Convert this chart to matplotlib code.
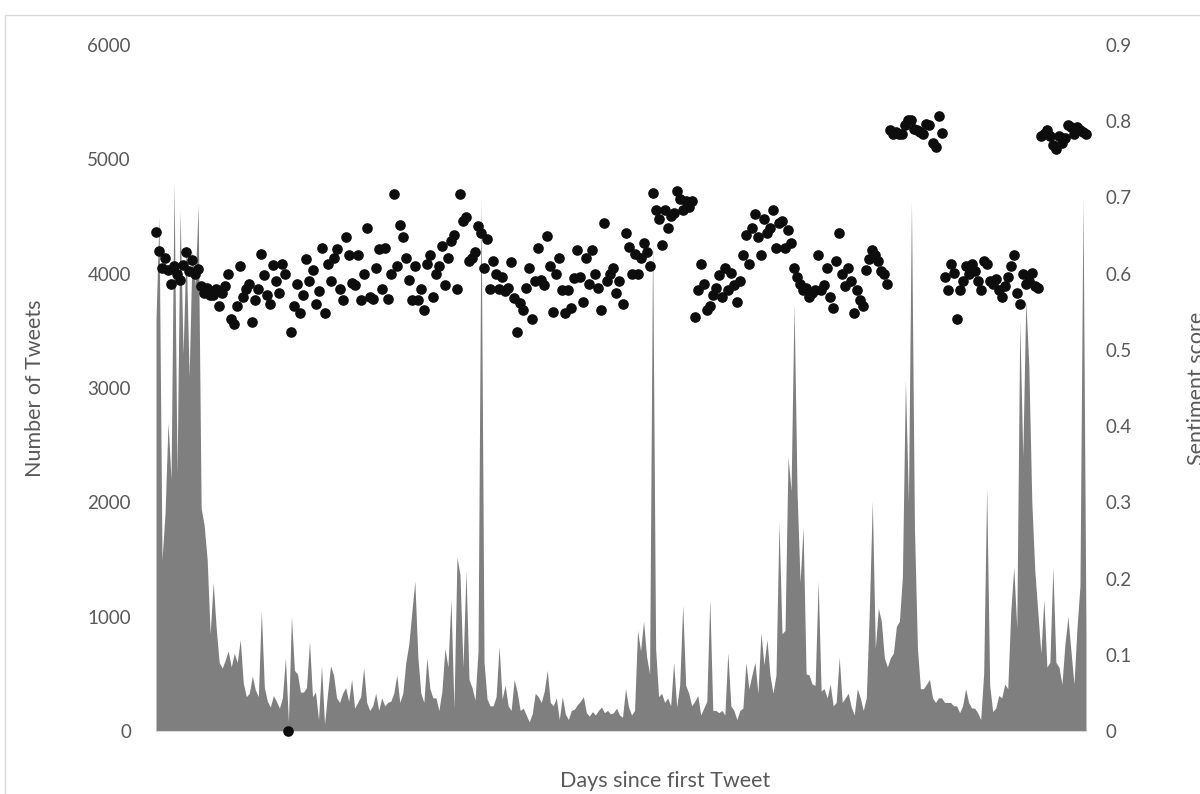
from matplotlib import pyplot as plt
from matplotlib.patches import Rectangle
import numpy as np

# daily tweet counts (area, left axis)
tweets = [3600, 4500, 1500, 1900, 2700, 2200, 4800, 2250, 4550, 3300, 4250, 3100, 4200, 3900, 4600, 1950, 1800, 1500, 850, 1300, 900, 600,
          550, 620, 700, 560, 680, 600, 800, 420, 300, 330, 480, 360, 300, 1050, 380, 260, 210, 310, 260, 200, 290, 640,
          80, 1000, 530, 500, 340, 340, 380, 780, 300, 340, 100, 570, 60, 330, 570, 490, 290, 250, 330, 380, 260, 450, 200, 250,
          300, 550, 250, 180, 220, 330, 180, 290, 220, 250, 260, 330, 490, 250, 330, 600, 760, 1040, 1310, 650,
          330, 250, 640, 370, 290, 290, 180, 350, 720, 560, 1150, 200, 1520, 1370, 560, 1400, 450, 380, 270, 700, 4650, 600,
          280, 220, 220, 300, 740, 280, 400, 220, 180, 450, 340, 180, 200, 140, 80, 150, 330, 300, 250, 350, 530, 250, 220,
          290, 100, 300, 150, 100, 180, 190, 230, 260, 300, 160, 130, 170, 140, 180, 210, 160, 180, 150, 160, 200, 140, 120,
          370, 210, 140, 180, 880, 700, 960, 650, 500, 4300, 720, 300, 330, 250, 290, 220, 600, 210, 400, 1100, 400, 330,
          220, 260, 310, 140, 200, 260, 1150, 180, 180, 160, 180, 140, 685, 220, 180, 100, 180, 200, 600, 370, 490, 600,
          330, 860, 580, 800, 490, 330, 490, 1820, 850, 880, 2400, 2100, 3740, 2090, 1300, 1780, 500, 490, 410, 400, 1310, 350, 370,
          290, 410, 220, 250, 645, 250, 290, 330, 210, 140, 370, 290, 180, 290, 1040, 2010, 720, 1075, 960, 640, 560, 640,
          680, 915, 960, 1350, 3070, 2000, 4630, 1780, 720, 370, 370, 410, 450, 290, 250, 290, 290, 250, 250, 250, 220, 220, 160,
          220, 370, 250, 200, 200, 160, 100, 500, 2130, 400, 170, 200, 310, 290, 410, 370, 1040, 1430, 900, 3580, 2400,
          3770, 3200, 2000, 1400, 1040, 680, 1150, 560, 600, 1430, 600, 560, 410, 760, 1000, 700, 410, 900, 1270, 4650, 840]

# daily mean sentiment (dots, right axis)
sentiment = [0.655, 0.63, 0.607, 0.62, 0.605, 0.587, 0.61, 0.6, 0.592, 0.612, 0.628, 0.603, 0.618, 0.6, 0.606, 0.584, 0.575,
             0.581, 0.572, 0.572, 0.58, 0.557, 0.575, 0.584, 0.599, 0.54, 0.534, 0.557, 0.61, 0.569, 0.58, 0.587, 0.537, 0.566,
             0.58, 0.626, 0.598, 0.572, 0.56, 0.612, 0.59, 0.575, 0.613, 0.6,
             0.0, 0.523, 0.557, 0.587, 0.549, 0.572, 0.619, 0.59, 0.605, 0.56, 0.577, 0.634, 0.549, 0.613, 0.59, 0.62, 0.633,
             0.58, 0.565, 0.648, 0.625, 0.588, 0.585, 0.625, 0.566, 0.6, 0.66, 0.57, 0.567, 0.608, 0.632, 0.58, 0.634, 0.567,
             0.6, 0.704, 0.61, 0.664, 0.648, 0.62, 0.592, 0.566, 0.61, 0.565,
             0.58, 0.552, 0.613, 0.625, 0.57, 0.6, 0.61, 0.636, 0.585, 0.62, 0.643, 0.651, 0.58, 0.705, 0.669, 0.674, 0.617,
             0.62, 0.628, 0.663, 0.653, 0.607, 0.645, 0.58, 0.617, 0.6, 0.58, 0.596, 0.577, 0.581, 0.615, 0.568, 0.524, 0.561,
             0.552, 0.581, 0.607, 0.54, 0.59, 0.634, 0.592, 0.585, 0.65, 0.61, 0.55,
             0.599, 0.62, 0.578, 0.548, 0.578, 0.555, 0.594, 0.631, 0.596, 0.563, 0.62, 0.587, 0.631, 0.6, 0.581, 0.552, 0.666,
             0.59, 0.6, 0.608, 0.575, 0.59, 0.56, 0.654, 0.635, 0.6, 0.626, 0.6, 0.62, 0.64, 0.628, 0.61, 0.706, 0.684, 0.672,
             0.637, 0.684, 0.66, 0.675, 0.68, 0.708, 0.698, 0.683, 0.695, 0.688,
             0.695, 0.543, 0.578, 0.613, 0.587, 0.552, 0.557, 0.572, 0.581, 0.598, 0.569, 0.607, 0.578, 0.601, 0.585, 0.563,
             0.59, 0.625, 0.651, 0.613, 0.66, 0.678, 0.648, 0.625, 0.672, 0.654, 0.66, 0.684, 0.634, 0.666, 0.669, 0.634, 0.657,
             0.64, 0.607, 0.596, 0.587, 0.578, 0.581, 0.569, 0.575, 0.578, 0.625, 0.578, 0.585,
             0.607, 0.569, 0.555, 0.616, 0.654, 0.599, 0.584, 0.607, 0.59, 0.549, 0.578, 0.566, 0.557, 0.605, 0.619, 0.631,
             0.625, 0.616, 0.604, 0.599, 0.587, 0.789, 0.783, 0.786, 0.783, 0.783, 0.795, 0.801, 0.802, 0.79, 0.789, 0.786,
             0.783, 0.796, 0.795, 0.772, 0.766, 0.807, 0.785, 0.596, 0.579, 0.613, 0.601, 0.54, 0.578,
             0.59, 0.61, 0.6, 0.613, 0.604, 0.59, 0.578, 0.616, 0.613, 0.59, 0.587, 0.593, 0.578, 0.569, 0.584, 0.596, 0.61,
             0.625, 0.575, 0.56, 0.6, 0.587, 0.59, 0.601, 0.584, 0.581, 0.78, 0.783, 0.789, 0.78, 0.769, 0.763, 0.78, 0.772,
             0.778, 0.795, 0.792, 0.783, 0.792, 0.789, 0.786, 0.783]

left_ticks = [0, 1000, 2000, 3000, 4000, 5000, 6000]
right_ticks = [0, 0.1, 0.2, 0.3, 0.4, 0.5, 0.6, 0.7, 0.8, 0.9]
right_labels = ["0", "0.1", "0.2", "0.3", "0.4", "0.5", "0.6", "0.7", "0.8", "0.9"]

days = np.arange(len(tweets))
txt = "#595959"
plt.rcParams['font.family'] = ['Lato', 'DejaVu Sans']

fig = plt.figure(figsize=(12, 7.94), dpi=100)
ax = fig.add_axes([156 / 1200, 1 - 731 / 794, 930 / 1200, 686 / 794])

ax.fill_between(days, 0, tweets, color="#7f7f7f", linewidth=0)
ax.set_xlim(0, len(tweets) - 1)
ax.set_ylim(0, 6000)
ax.set_yticks(left_ticks)
ax.set_yticklabels([str(t) for t in left_ticks])
ax.set_xticks([])
ax.tick_params(axis="y", length=0, pad=18, labelsize=13.5, labelcolor=txt)
for s in ['top', 'right', 'left']:
    ax.spines[s].set_visible(False)
ax.spines['bottom'].set_color("#d9d9d9")

ax2 = ax.twinx()
ax2.scatter(days, sentiment, s=44, color="#0d0d0d", zorder=3, clip_on=False)
ax2.set_ylim(0, 0.9)
ax2.set_yticks(right_ticks)
ax2.set_yticklabels(right_labels)
ax2.tick_params(axis="y", length=0, pad=14, labelsize=13.5, labelcolor=txt)
for s in ['top', 'right', 'left', 'bottom']:
    ax2.spines[s].set_visible(False)

fig.text(35 / 1200, 1 - 388 / 794, "Number of Tweets", rotation=90, ha="center", va="center", fontsize=15.5, color=txt)
fig.text(1197 / 1200, 1 - 388 / 794, "Sentiment score", rotation=90, ha="center", va="center", fontsize=15.5, color=txt)
fig.text(665 / 1200, 1 - 781 / 794, "Days since first Tweet", ha="center", va="center", fontsize=15.5, color=txt)

# chart frame, cut by the picture edge
fig.patches.append(Rectangle((5 / 1200, -0.1), 1.2, 1.1 - 15 / 794, transform=fig.transFigure,
                             fill=False, edgecolor="#d9d9d9", linewidth=1))

plt.savefig("out.png", dpi=100)
plt.close()
